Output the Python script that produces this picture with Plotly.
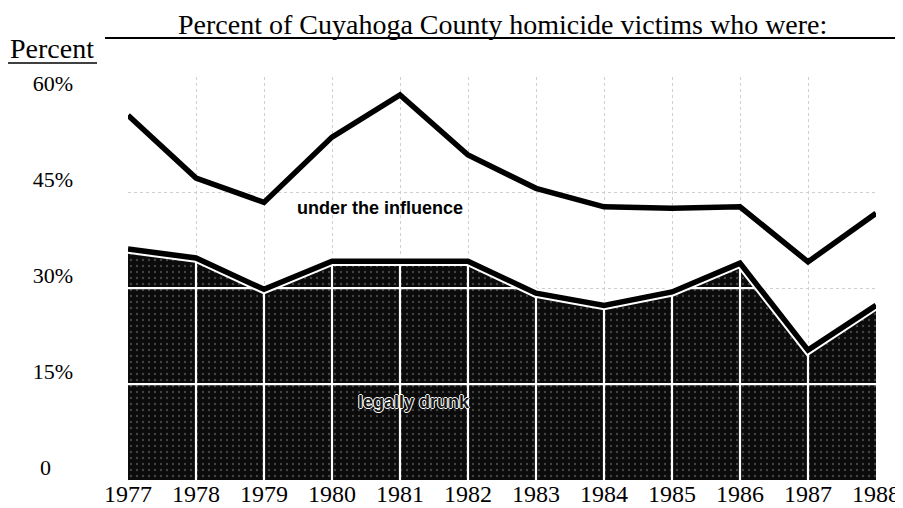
import plotly.graph_objects as go

# ---------------- data ----------------
years = list(range(1977, 1989))
under_influence = [57.0, 47.2, 43.4, 53.6, 60.2, 50.8, 45.6, 42.7, 42.5, 42.7, 34.1, 41.7]
legally_drunk = [36.1, 34.7, 29.8, 34.2, 34.2, 34.2, 29.2, 27.3, 29.4, 33.9, 20.3, 27.3]
y_tick_vals = [0, 15, 30, 45, 60]
y_tick_text = ["0\u00a0\u00a0\u00a0\u00a0", "15%", "30%", "45%", "60%"]
white_grid_levels = [15, 30]
faint_grid_levels = [30, 45]

title_text = "Percent of Cuyahoga County homicide victims who were:"
y_title_text = "Percent"
label_upper = "under the influence"
label_lower = "legally drunk"

SERIF = "Liberation Serif, Times New Roman, serif"
SANS = "Liberation Sans, Arial, sans-serif"


def level_segments(xs, ys, level):
    """Horizontal segments at `level` restricted to where the area is above it."""
    out_x, out_y = [], []
    for i in range(len(xs) - 1):
        x0, x1, y0, y1 = xs[i], xs[i + 1], ys[i], ys[i + 1]
        a0, a1 = y0 >= level, y1 >= level
        if a0 and a1:
            seg = (x0, x1)
        elif a0:
            seg = (x0, x0 + (level - y0) / (y1 - y0) * (x1 - x0))
        elif a1:
            seg = (x0 + (level - y0) / (y1 - y0) * (x1 - x0), x1)
        else:
            continue
        out_x += [seg[0], seg[1], None]
        out_y += [level, level, None]
    return out_x, out_y


fig = go.Figure()

# dark area: legally drunk
fig.add_trace(go.Scatter(
    x=years, y=legally_drunk, mode="none", fill="tozeroy",
    fillcolor="#101010",
    fillpattern=dict(shape=".", bgcolor="#0b0b0b", fgcolor="#7a7a7a",
                     size=6, solidity=0.12),
    hoverinfo="skip",
))

# white grid lines inside the dark area
gx, gy = [], []
for yr, v in zip(years[1:-1], legally_drunk[1:-1]):
    gx += [yr, yr, None]
    gy += [0, v, None]
for lvl in white_grid_levels:
    sx, sy = level_segments(years, legally_drunk, lvl)
    gx += sx
    gy += sy
fig.add_trace(go.Scatter(x=gx, y=gy, mode="lines",
                         line=dict(color="white", width=2.2),
                         hoverinfo="skip"))

# white edge + black line on top of the dark area
fig.add_trace(go.Scatter(x=years, y=legally_drunk, mode="lines",
                         line=dict(color="white", width=9.5), hoverinfo="skip"))
fig.add_trace(go.Scatter(x=years, y=legally_drunk, mode="lines",
                         line=dict(color="black", width=5.5), hoverinfo="skip"))

# under the influence line
fig.add_trace(go.Scatter(x=years, y=under_influence, mode="lines",
                         line=dict(color="black", width=5.5), hoverinfo="skip"))

# the page body adds an 8px offset, so the figure is 8px smaller on each axis
fig.update_layout(
    width=895, height=500,
    margin=dict(l=120, r=27, t=69, b=28),
    paper_bgcolor="white", plot_bgcolor="white",
    showlegend=False,
    font=dict(family=SERIF, color="black"),
    xaxis=dict(
        range=[1977, 1988], tickmode="array", tickvals=years,
        tickfont=dict(family=SERIF, size=24, color="black"),
        showline=False, zeroline=False, ticks="",
        ticklabelstandoff=-3,
        showgrid=True, gridcolor="#cfcfcf", griddash="dot", gridwidth=1,
        automargin=False, fixedrange=True,
    ),
    yaxis=dict(
        range=[0, 63], tickmode="array", tickvals=y_tick_vals, ticktext=y_tick_text,
        tickfont=dict(family=SERIF, size=22, color="black"),
        showline=False, zeroline=False, ticks="", showgrid=False,
        ticklabelshift=-13, ticklabelstandoff=54,
        minor=dict(tickmode="array", tickvals=faint_grid_levels, showgrid=True,
                   gridcolor="#cfcfcf", griddash="dot", gridwidth=1, ticks=""),
        automargin=False, fixedrange=True,
    ),
    annotations=[
        dict(text=title_text, xref="paper", yref="paper", x=0.501, y=1.1315,
             xanchor="center", yanchor="middle", showarrow=False,
             font=dict(family=SERIF, size=28, color="black")),
        dict(text=y_title_text, xref="paper", yref="paper", x=-0.1016, y=1.0695,
             xanchor="center", yanchor="middle", showarrow=False,
             font=dict(family=SERIF, size=28, color="black")),
        dict(text="<b>" + label_upper + "</b>", xref="x", yref="y", x=1980.7, y=42.5,
             xanchor="center", yanchor="middle", showarrow=False,
             font=dict(family=SANS, size=18, color="black")),
        dict(text="<b>" + label_lower + "</b>", xref="x", yref="y", x=1981.2, y=12.2,
             xanchor="center", yanchor="middle", showarrow=False,
             font=dict(family=SANS, size=18, color="#161616",
                       shadow="1px 0 0 #fff, -1px 0 0 #fff, 0 1px 0 #fff, 0 -1px 0 #fff")),
    ],
    shapes=[
        dict(type="line", xref="paper", yref="paper", x0=-0.0307, x1=1.04,
             y0=1.0968, y1=1.0968, line=dict(color="black", width=2)),
        dict(type="line", xref="paper", yref="paper", x0=-0.1604, x1=-0.0414,
             y0=1.0347, y1=1.0347, line=dict(color="black", width=1.5)),
    ],
)

fig.write_html("out.html")
